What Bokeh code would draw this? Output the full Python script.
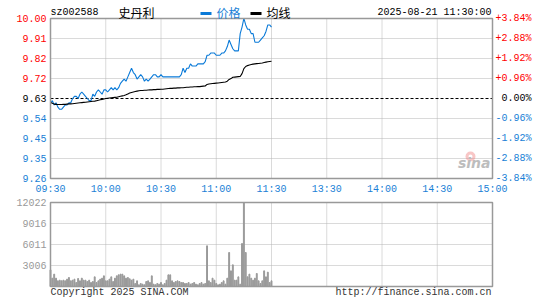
from bokeh.plotting import figure
from bokeh.models import Range1d
from bokeh.core.properties import value
from bokeh.embed import file_html
from bokeh.resources import INLINE

# ---------------- data ----------------
stock_code = "sz002588"
stock_name = "史丹利"
timestamp = "2025-08-21 11:30:00"
legend_names = ["价格", "均线"]
prev_close = 9.63
minutes = list(range(121))  # trading minutes since 09:30

price = [
    9.61, 9.62, 9.60, 9.61, 9.59, 9.58, 9.58, 9.59, 9.60, 9.60,
    9.61, 9.61, 9.63, 9.64, 9.64, 9.63, 9.65, 9.66, 9.65, 9.64,
    9.63, 9.62, 9.62, 9.65, 9.64, 9.66, 9.67, 9.66, 9.65, 9.67,
    9.67, 9.66, 9.67, 9.68, 9.67, 9.68, 9.67, 9.68, 9.70, 9.71,
    9.72, 9.71, 9.73, 9.75, 9.77, 9.75, 9.74, 9.72, 9.73, 9.74,
    9.73, 9.71, 9.72, 9.71, 9.72, 9.73, 9.74, 9.74, 9.73, 9.73,
    9.74, 9.73, 9.73, 9.73, 9.73, 9.73, 9.73, 9.73, 9.73, 9.73,
    9.73, 9.74, 9.77, 9.75, 9.77, 9.77, 9.79, 9.78, 9.78, 9.78,
    9.79, 9.79, 9.79, 9.79, 9.80, 9.83, 9.83, 9.84, 9.84, 9.84,
    9.83, 9.83, 9.83, 9.84, 9.84, 9.85, 9.87, 9.90, 9.88, 9.86,
    9.85, 9.85, 9.85, 9.93, 9.96, 10.00, 9.97, 9.95, 9.95, 9.93,
    9.93, 9.89, 9.89, 9.89, 9.90, 9.91, 9.92, 9.94, 9.97, 9.97,
    9.96,
]

avg_price = [
    9.612, 9.608, 9.604, 9.603, 9.602, 9.602, 9.602, 9.603, 9.603, 9.604,
    9.605, 9.605, 9.606, 9.607, 9.608, 9.609, 9.610, 9.611, 9.612, 9.613,
    9.614, 9.615, 9.616, 9.617, 9.618, 9.620, 9.622, 9.624, 9.626, 9.628,
    9.630, 9.631, 9.632, 9.633, 9.634, 9.635, 9.636, 9.638, 9.640, 9.642,
    9.644, 9.647, 9.651, 9.655, 9.658, 9.660, 9.662, 9.664, 9.666, 9.667,
    9.667, 9.668, 9.668, 9.669, 9.670, 9.670, 9.671, 9.671, 9.672, 9.672,
    9.673, 9.673, 9.674, 9.675, 9.676, 9.677, 9.677, 9.678, 9.678, 9.679,
    9.679, 9.680, 9.680, 9.681, 9.682, 9.682, 9.683, 9.683, 9.684, 9.684,
    9.685, 9.685, 9.686, 9.687, 9.688, 9.695, 9.697, 9.698, 9.699, 9.700,
    9.701, 9.702, 9.703, 9.704, 9.705, 9.706, 9.710, 9.718, 9.722, 9.728,
    9.729, 9.730, 9.731, 9.732, 9.745, 9.768, 9.778, 9.782, 9.785, 9.787,
    9.789, 9.790, 9.791, 9.792, 9.793, 9.794, 9.796, 9.798, 9.800, 9.801,
    9.802,
]

volume = [
    2385, 1190, 1765, 1190, 810, 905, 810, 905, 810, 1050,
    1290, 810, 905, 1050, 570, 1145, 810, 1190, 905, 905,
    715, 905, 570, 715, 1380, 570, 810, 1050, 1190, 1525,
    810, 810, 1050, 1380, 715, 1190, 1525, 1670, 1765, 1765,
    1525, 1190, 1290, 1100, 905, 1050, 430, 810, 240, 430,
    335, 240, 715, 810, 570, 1525, 335, 240, 430, 335,
    570, 240, 430, 905, 1670, 1670, 810, 570, 715, 810,
    715, 570, 570, 430, 430, 570, 335, 430, 570, 335,
    240, 430, 570, 335, 430, 5820, 810, 570, 1190, 905,
    430, 240, 335, 570, 810, 335, 1190, 4865, 2240, 3100,
    905, 905, 1380, 335, 6150, 12022, 4865, 1380, 1765, 1190,
    905, 1190, 1860, 810, 430, 810, 2240, 1380, 2050, 570,
    810,
]

time_ticks = [0, 30, 60, 90, 120, 150, 180, 210, 240]
time_labels = ["09:30", "10:00", "10:30", "11:00", "11:30", "13:30", "14:00", "14:30", "15:00"]
price_labels = ["10.00", "9.91", "9.82", "9.72", "9.63", "9.54", "9.45", "9.35", "9.26"]
pct_labels = ["+3.84%", "+2.88%", "+1.92%", "+0.96%", "0.00%", "-0.96%", "-1.92%", "-2.88%", "-3.84%"]
vol_ticks = [3006, 6011, 9016, 12022]
vol_labels = ["3006", "6011", "9016", "12022"]
max_pct = 0.0384
copyright_text = "Copyright 2025 SINA.COM"
url_text = "http://finance.sina.com.cn"

# ---------------- layout / style ----------------
IMG_W, IMG_H = 545, 300
X0, X1 = 50, 492            # pixel extent of the time axis
Y_TOP, Y_BOT = 18, 178      # price panel
VY_TOP, VY_BOT = 202, 286   # volume panel
MONO = "Liberation Mono"
CJK = "Noto Sans CJK SC"
BLUE = "#1a7fd6"
LINE_BLUE = "#0a7ad8"
RED = "#ff0000"
GREY = "#999999"
GRID = "#b4b4b4"

half = prev_close * max_pct
lo, hi = prev_close - half, prev_close + half
step = half / 4
price_pos = [prev_close + (4 - i) * step for i in range(9)]
price_cols = [RED] * 4 + ["black"] + [BLUE] * 4
vmax = max(vol_ticks)

ppx = (X1 - X0) / 240.0
ppy = (Y_BOT - Y_TOP) / (hi - lo)
vppy = (VY_BOT - VY_TOP) / vmax


def px_x(px):
    return (px - X0) / ppx


def px_py(py):
    return hi - (py - Y_TOP) / ppy


def px_vy(py):
    return vmax - (py - VY_TOP) / vppy


p = figure(width=IMG_W, height=IMG_H, title=None,
           x_range=Range1d(px_x(0), px_x(IMG_W)),
           y_range=Range1d(px_py(IMG_H), px_py(0)),
           output_backend="svg", toolbar_location=None,
           x_axis_location=None, y_axis_location=None,
           min_border=0)
p.extra_y_ranges = {"vol": Range1d(px_vy(IMG_H), px_vy(0))}
p.outline_line_color = None
p.xgrid.visible = False
p.ygrid.visible = False
p.background_fill_color = "white"
p.border_fill_color = "white"

inner = time_ticks[1:-1]

# ---- price panel grid ----
p.segment(x0=inner, y0=[lo] * len(inner), x1=inner, y1=[hi] * len(inner),
          line_color=GRID, line_dash="1 1", line_width=1)
hpos = price_pos[1:4] + price_pos[5:8]
p.segment(x0=[0] * len(hpos), y0=hpos, x1=[240] * len(hpos), y1=hpos,
          line_color=GRID, line_dash="1 1", line_width=1)
p.segment(x0=[0], y0=[prev_close], x1=[240], y1=[prev_close],
          line_color="black", line_dash="3 2", line_width=1)

# sina watermark
p.annulus(x=[px_x(470)], y=[px_py(156)], inner_radius=2, outer_radius=5,
          inner_radius_units="screen", outer_radius_units="screen",
          fill_color="#f08080", fill_alpha=0.45, line_color=None)
p.text(x=[px_x(490)], y=[px_py(170)], text=["sina"], text_align="right",
       text_baseline="bottom", text_font=value("DejaVu Sans"),
       text_font_style="bold italic", text_font_size="14px", text_color="#bdbdbd")

# ---- price data ----
p.line(minutes, price, line_color=LINE_BLUE, line_width=1.1)
p.line(minutes, avg_price, line_color="black", line_width=1.1)

p.quad(left=[0], right=[240], bottom=[lo], top=[hi], fill_color=None,
       line_color=GREY, line_width=1.5)

# tick labels
p.text(x=[px_x(46)] * 9, y=price_pos, text=price_labels, text_align="right",
       text_baseline="middle", text_color=price_cols, text_font=value(MONO),
       text_font_size="10px")
p.text(x=[px_x(531)] * 9, y=price_pos, text=pct_labels, text_align="right",
       text_baseline="middle", text_color=price_cols, text_font=value(MONO),
       text_font_size="10px")
p.text(x=time_ticks, y=[px_py(189)] * len(time_ticks), text=time_labels,
       text_align="center", text_baseline="middle", text_color=BLUE,
       text_font=value(MONO), text_font_size="10px")

# header
ty = px_py(12)
p.text(x=[px_x(50)], y=[ty], text=[stock_code], text_baseline="middle",
       text_font=value(MONO), text_font_size="10px", text_color="black")
p.text(x=[px_x(118)], y=[ty], text=[stock_name], text_baseline="middle",
       text_font=value(CJK), text_font_size="12px", text_color="black")
p.rect(x=[px_x(205.5), px_x(255.5)], y=[px_py(13)] * 2, width=11, height=3,
       width_units="screen", height_units="screen",
       fill_color=[LINE_BLUE, "black"], line_color=None)
p.text(x=[px_x(216), px_x(266)], y=[ty] * 2, text=legend_names,
       text_baseline="middle", text_font=value(CJK), text_font_size="12px",
       text_color=[BLUE, "black"])
p.text(x=[px_x(491)], y=[ty], text=[timestamp], text_align="right",
       text_baseline="middle", text_font=value(MONO), text_font_size="10px",
       text_color="black")

# ---- volume panel ----
p.segment(x0=inner, y0=[0] * len(inner), x1=inner, y1=[vmax] * len(inner),
          line_color=GRID, line_dash="1 1", line_width=1, y_range_name="vol")
vinner = vol_ticks[:-1]
p.segment(x0=[0] * len(vinner), y0=vinner, x1=[240] * len(vinner), y1=vinner,
          line_color=GRID, line_dash="1 1", line_width=1, y_range_name="vol")
p.vbar(x=minutes, top=volume, width=0.5, color=GREY, y_range_name="vol")
p.quad(left=[0], right=[240], bottom=[0], top=[vmax], fill_color=None,
       line_color=GREY, line_width=1.5, y_range_name="vol")
p.text(x=[px_x(46)] * len(vol_ticks), y=vol_ticks, text=vol_labels,
       text_align="right", text_baseline="middle", text_color=GREY,
       text_font=value(MONO), text_font_size="10px", y_range_name="vol")
p.text(x=[px_x(50)], y=[px_vy(292)], text=[copyright_text], text_baseline="middle",
       text_font=value(MONO), text_font_size="10px", text_color="#333333",
       y_range_name="vol")
p.text(x=[px_x(491)], y=[px_vy(292)], text=[url_text], text_align="right",
       text_baseline="middle", text_font=value(MONO), text_font_size="10px",
       text_color="#333333", y_range_name="vol")

open("out.html", "w").write(file_html(p, INLINE))
